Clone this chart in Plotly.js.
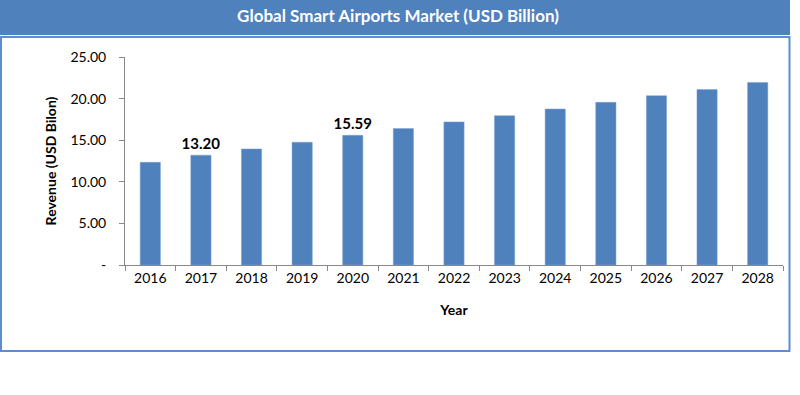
<!DOCTYPE html>
<html>
<head>
<meta charset="utf-8">
<script src="https://cdn.plot.ly/plotly-3.0.1.min.js"></script>
<style>html,body{margin:0;padding:0;background:#fff;}#chart{width:800px;height:395px;}</style>
</head>
<body>
<div id="chart"></div>
<script>
const years = ['2016','2017','2018','2019','2020','2021','2022','2023','2024','2025','2026','2027','2028'];
const revenue = [12.34, 13.20, 13.95, 14.75, 15.59, 16.40, 17.20, 17.95, 18.75, 19.55, 20.35, 21.10, 21.95];
const dataLabels = ['', '13.20', '', '', '15.59', '', '', '', '', '', '', '', ''];
const yTickVals = [0, 5, 10, 15, 20, 25];
const yTickText = ['-', '5.00', '10.00', '15.00', '20.00', '25.00'];
const chartTitle = 'Global Smart Airports Market (USD Billion)';
const xTitle = 'Year';
const yTitle = 'Revenue (USD Bilon)';

const W = 800, H = 395;
const m = {l: 125, r: 17, t: 57, b: 130};
const pw = W - m.l - m.r, ph = H - m.t - m.b;
const px = x => (x - m.l) / pw;
const py = y => (H - m.b - y) / ph;

const font = 'Lato, "Open Sans", sans-serif';
const blue = '#4F81BD';

const trace = {
  type: 'bar',
  x: years,
  y: revenue,
  marker: {color: blue, line: {color: '#7FA3D3', width: 0.5}},
  text: dataLabels.map(t => t ? '<b>' + t + '</b>' : ''),
  textposition: 'outside',
  constraintext: 'none',
  textfont: {family: font, size: 15, color: '#000'},
  cliponaxis: false,
  hoverinfo: 'skip'
};

const layout = {
  width: W, height: H,
  margin: m,
  paper_bgcolor: '#fff',
  plot_bgcolor: '#fff',
  bargap: 0.6,
  showlegend: false,
  font: {family: font, color: '#000'},
  title: {
    text: '<b>' + chartTitle + '</b>',
    font: {family: font, size: 17, color: '#fff'},
    x: 398 / W, xanchor: 'center', xref: 'container',
    y: 1 - 16 / H, yanchor: 'middle', yref: 'container'
  },
  xaxis: {
    type: 'category',
    tickson: 'boundaries',
    ticks: 'outside', ticklen: 5, tickcolor: '#888', tickwidth: 1,
    showline: true, linecolor: '#888', linewidth: 1,
    showgrid: false, zeroline: false,
    tickfont: {family: font, size: 14, color: '#000'},
    title: {text: '<b>' + xTitle + '</b>', font: {family: font, size: 14, color: '#000'}, standoff: 20}
  },
  yaxis: {
    range: [0, 25],
    tickvals: yTickVals, ticktext: yTickText,
    ticks: 'outside', ticklen: 5, tickcolor: '#888', tickwidth: 1,
    showline: true, linecolor: '#888', linewidth: 1,
    showgrid: false, zeroline: false,
    ticklabelstandoff: 10,
    tickfont: {family: font, size: 14, color: '#000'},
    title: {text: '<b>' + yTitle + '</b>', font: {family: font, size: 14, color: '#000'}, standoff: 10}
  },
  shapes: [
    {type: 'rect', xref: 'paper', yref: 'paper', layer: 'below',
     x0: px(0), x1: px(790), y0: py(35), y1: py(0),
     fillcolor: blue, line: {width: 0}},
    {type: 'rect', xref: 'paper', yref: 'paper', layer: 'below',
     x0: px(1), x1: px(789.5), y0: py(351), y1: py(37),
     fillcolor: 'rgba(0,0,0,0)', line: {color: '#5B8DD0', width: 2}}
  ]
};

Plotly.newPlot('chart', [trace], layout, {displayModeBar: false, staticPlot: true});
</script>
</body>
</html>
